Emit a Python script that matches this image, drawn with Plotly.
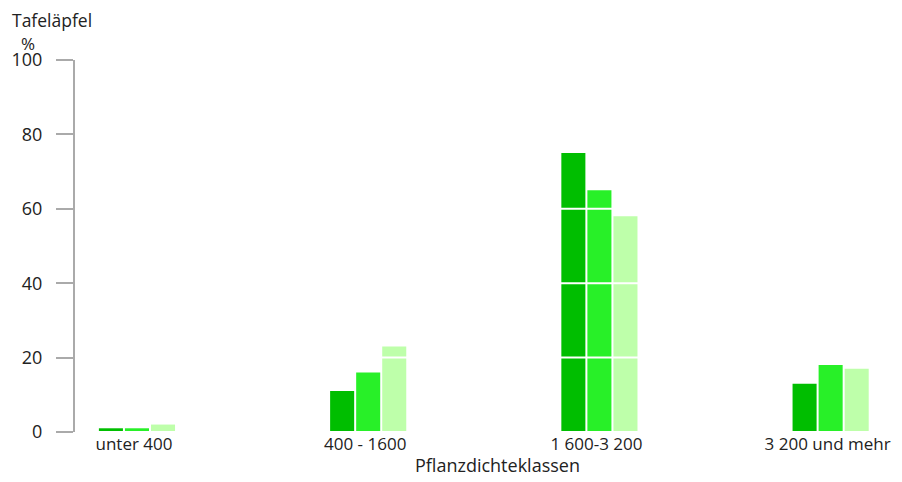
import plotly.graph_objects as go

categories = ["unter 400", "400 - 1600", "1 600-3 200", "3 200 und mehr"]
series_a = [1, 11, 75, 13]
series_b = [1, 16, 65, 18]
series_c = [2, 23, 58, 17]
colors = ["#00BE00", "#28F028", "#BEFFAA"]
y_ticks = [0, 20, 40, 60, 80, 100]

FONT = "Open Sans, Noto Sans, sans-serif"
fig = go.Figure()
xs = list(range(len(categories)))
for vals, col in zip([series_a, series_b, series_c], colors):
    fig.add_trace(go.Bar(x=xs, y=vals, marker=dict(color=col, line=dict(width=0)),
                         showlegend=False, hoverinfo="y"))

for t in y_ticks:
    fig.add_shape(type="line", xref="paper", x0=0, x1=1, yref="y", y0=t, y1=t,
                  line=dict(color="white", width=2), layer="above")

# page body has an 8px margin, so the figure is sized/offset to compensate
fig.update_layout(
    width=894, height=466,
    margin=dict(l=67, r=2, t=52, b=42, autoexpand=False),
    paper_bgcolor="white", plot_bgcolor="white",
    barmode="group", bargap=0.662, bargroupgap=0.077,
    font=dict(family=FONT, size=18, color="#222"),
    xaxis=dict(range=[-0.268, 3.3], tickmode="array", tickvals=xs, ticktext=categories,
               showgrid=False, showline=False, zeroline=False, ticks="",
               automargin=False, fixedrange=True, ticklabelshift=-3,
               ticklabeloverflow="allow",
               tickfont=dict(size=17), title=dict(text="")),
    yaxis=dict(range=[0, 100], tickvals=y_ticks, showgrid=False, zeroline=False,
               showline=True, linecolor="#aaaaaa", linewidth=2, automargin=False,
               ticks="outside", ticklen=17, tickwidth=2, tickcolor="#aaaaaa",
               ticklabelstandoff=10, tickfont=dict(size=18)),
    annotations=[
        dict(text="Tafeläpfel", xref="paper", yref="paper", x=-0.0788, y=1.1075,
             xanchor="left", yanchor="middle", showarrow=False, font=dict(size=17.5)),
        dict(text="%", xref="paper", yref="paper", x=-0.057, y=1.045,
             xanchor="center", yanchor="middle", showarrow=False, font=dict(size=17)),
        dict(text="Pflanzdichteklassen", xref="paper", yref="paper", x=0.512, y=-0.0887,
             xanchor="center", yanchor="middle", showarrow=False, font=dict(size=18)),
    ],
)
fig.write_html("out.html")
